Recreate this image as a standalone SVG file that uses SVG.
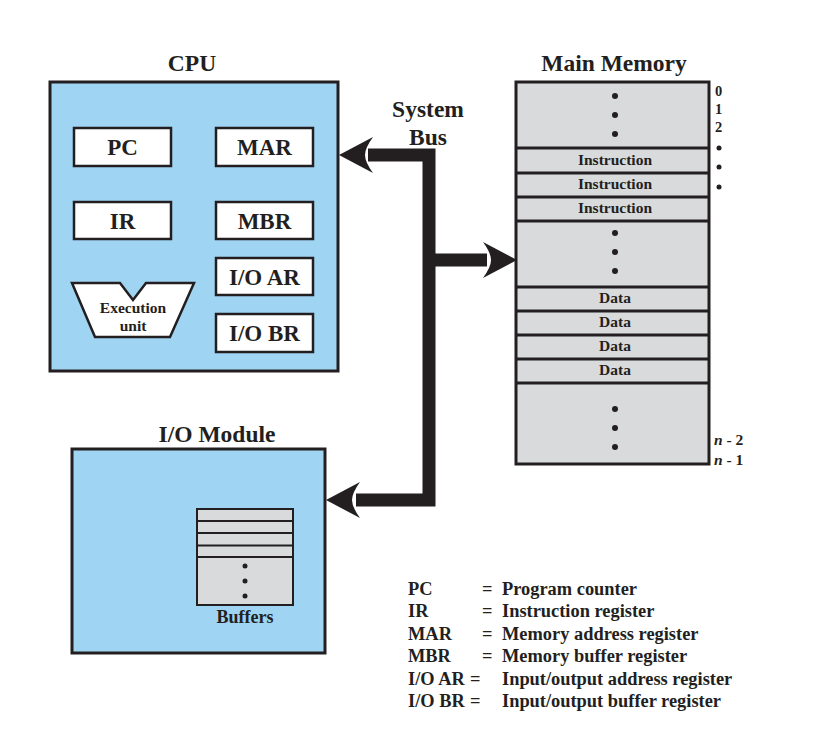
<svg xmlns="http://www.w3.org/2000/svg" width="813" height="755" viewBox="0 0 813 755" font-family="'Liberation Serif','Times New Roman',serif">
<style>
text{font-family:"Liberation Serif","Times New Roman",serif;font-weight:bold;fill:#231f20}
.t{font-size:23.5px;text-anchor:middle}
.r{font-size:23px;text-anchor:middle}
.reg{fill:#fff;stroke:#231f20;stroke-width:2.5}
.blue{fill:#9fd4f3;stroke:#231f20;stroke-width:3}
.gray{fill:#d9dadc;stroke:#231f20;stroke-width:3}
.row{stroke:#231f20;stroke-width:3}
.rowt{font-size:15.5px;text-anchor:middle}
.lg{font-size:18.4px}
.num{font-size:14.5px}
.dot{fill:#231f20}
.bus{fill:none;stroke:#231f20;stroke-width:13;stroke-linejoin:miter}
</style>
<defs>
<path id="ah" d="M0,0 L-34,-18 Q-26,-7 -26,0 Q-26,7 -34,18 Z" fill="#231f20"/>
</defs>
<rect width="813" height="755" fill="#fff"/>

<g id="cpu">
<text class="t" x="192" y="71">CPU</text>
<rect class="blue" x="50" y="82" width="288" height="289"/>
<g id="pc"><rect class="reg" x="74" y="128" width="97" height="38"/><text class="r" x="122.5" y="155">PC</text></g>
<g id="mar"><rect class="reg" x="216" y="128" width="97" height="38"/><text class="r" x="264.5" y="155">MAR</text></g>
<g id="ir"><rect class="reg" x="74" y="202" width="97" height="37"/><text class="r" x="122.5" y="228.5">IR</text></g>
<g id="mbr"><rect class="reg" x="216" y="202" width="97" height="37"/><text class="r" x="264.5" y="228.5">MBR</text></g>
<g id="ioar"><rect class="reg" x="216" y="258" width="97" height="37"/><text class="r" x="264.5" y="284.5">I/O AR</text></g>
<g id="iobr"><rect class="reg" x="216" y="314" width="97" height="38"/><text class="r" x="264.5" y="341">I/O BR</text></g>
<g id="exec">
<path class="reg" d="M72,283 L120,283 L133,300 L146,283 L194,283 L170,337 L95,337 Z"/>
<text class="rowt" x="133" y="313">Execution</text>
<text class="rowt" x="133" y="331">unit</text>
</g>
</g>

<g id="memory">
<text class="t" x="614" y="71">Main Memory</text>
<rect class="gray" x="516" y="82" width="193" height="382"/>
<line class="row" x1="516" y1="148" x2="709" y2="148"/>
<line class="row" x1="516" y1="173" x2="709" y2="173"/>
<line class="row" x1="516" y1="197" x2="709" y2="197"/>
<line class="row" x1="516" y1="221" x2="709" y2="221"/>
<line class="row" x1="516" y1="287" x2="709" y2="287"/>
<line class="row" x1="516" y1="311" x2="709" y2="311"/>
<line class="row" x1="516" y1="335" x2="709" y2="335"/>
<line class="row" x1="516" y1="359" x2="709" y2="359"/>
<line class="row" x1="516" y1="383" x2="709" y2="383"/>
<text class="rowt" x="615" y="165">Instruction</text>
<text class="rowt" x="615" y="189">Instruction</text>
<text class="rowt" x="615" y="213">Instruction</text>
<text class="rowt" x="615" y="303">Data</text>
<text class="rowt" x="615" y="327">Data</text>
<text class="rowt" x="615" y="351">Data</text>
<text class="rowt" x="615" y="375">Data</text>
<circle class="dot" cx="615" cy="96" r="3"/>
<circle class="dot" cx="615" cy="115" r="3"/>
<circle class="dot" cx="615" cy="134" r="3"/>
<circle class="dot" cx="615" cy="233" r="3"/>
<circle class="dot" cx="615" cy="252" r="3"/>
<circle class="dot" cx="615" cy="271" r="3"/>
<circle class="dot" cx="615" cy="409" r="3"/>
<circle class="dot" cx="615" cy="428" r="3"/>
<circle class="dot" cx="615" cy="447" r="3"/>
<text class="num" x="715" y="96">0</text>
<text class="num" x="715" y="114">1</text>
<text class="num" x="715" y="132">2</text>
<circle class="dot" cx="719" cy="148" r="2.5"/>
<circle class="dot" cx="719" cy="167" r="2.5"/>
<circle class="dot" cx="719" cy="187" r="2.5"/>
<text class="num" style="font-size:15.5px" x="714" y="445"><tspan font-style="italic">n</tspan> - 2</text>
<text class="num" style="font-size:15.5px" x="714" y="465"><tspan font-style="italic">n</tspan> - 1</text>
</g>

<g id="io">
<text class="t" x="217" y="442">I/O Module</text>
<rect class="blue" x="72" y="449" width="253" height="204"/>
<rect class="gray" x="197" y="509" width="96" height="96" style="stroke-width:2"/>
<line class="row" style="stroke-width:2" x1="197" y1="521" x2="293" y2="521"/>
<line class="row" style="stroke-width:2" x1="197" y1="533" x2="293" y2="533"/>
<line class="row" style="stroke-width:2" x1="197" y1="545.5" x2="293" y2="545.5"/>
<line class="row" style="stroke-width:2" x1="197" y1="557" x2="293" y2="557"/>
<circle class="dot" cx="245" cy="566" r="2.5"/>
<circle class="dot" cx="245" cy="581" r="2.5"/>
<circle class="dot" cx="245" cy="596" r="2.5"/>
<text x="245" y="623" style="font-size:18px;text-anchor:middle">Buffers</text>
</g>

<g id="connectors">
<text class="t" x="428" y="117">System</text>
<text class="t" x="428" y="145">Bus</text>
<polyline class="bus" points="368,155 429,155 429,500 356,500"/>
<line class="bus" x1="429" y1="260" x2="487" y2="260"/>
<use href="#ah" transform="translate(339,155) rotate(180)"/>
<use href="#ah" transform="translate(517,260)"/>
<use href="#ah" transform="translate(326,500) rotate(180)"/>
</g>

<g id="legend">
<text class="lg" x="408" y="595">PC</text><text class="lg" x="482" y="595">=</text><text class="lg" x="502" y="595">Program counter</text>
<text class="lg" x="408" y="617">IR</text><text class="lg" x="482" y="617">=</text><text class="lg" x="502" y="617">Instruction register</text>
<text class="lg" x="408" y="640">MAR</text><text class="lg" x="482" y="640">=</text><text class="lg" x="502" y="640">Memory address register</text>
<text class="lg" x="408" y="662">MBR</text><text class="lg" x="482" y="662">=</text><text class="lg" x="502" y="662">Memory buffer register</text>
<text class="lg" x="408" y="685">I/O AR</text><text class="lg" x="470" y="685">=</text><text class="lg" x="502" y="685">Input/output address register</text>
<text class="lg" x="408" y="707">I/O BR</text><text class="lg" x="470" y="707">=</text><text class="lg" x="502" y="707">Input/output buffer register</text>
</g>
</svg>
